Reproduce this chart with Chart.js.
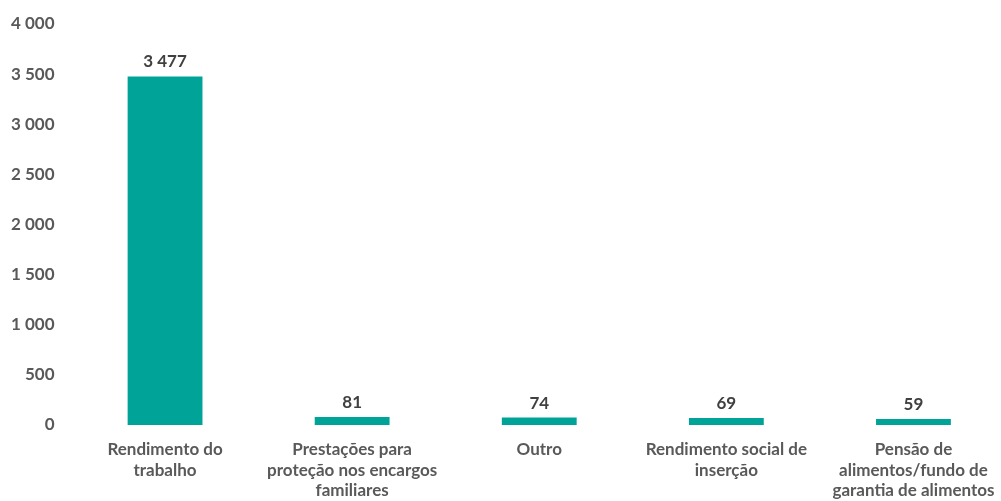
<!DOCTYPE html>
<html lang="pt">
<head>
<meta charset="UTF-8">
<title>Rendimentos</title>
<script src="https://cdn.jsdelivr.net/npm/chart.js"></script>
<style>
  html, body { margin: 0; padding: 0; overflow: hidden; background: #fff; }
  #wrap { width: 1007px; height: 501px; }
</style>
</head>
<body>
<div id="wrap"><canvas id="grafico"></canvas></div>
<script>
// dados
const categorias = [
  ["Rendimento do", "trabalho"],
  ["Prestações para", "proteção nos encargos", "familiares"],
  ["Outro"],
  ["Rendimento social de", "inserção"],
  ["Pensão de", "alimentos/fundo de", "garantia de alimentos"]
];
const valores = [3477, 81, 74, 69, 59];
const eixoY = { min: 0, max: 4000, passo: 500 };

const fonte = "Lato, 'Open Sans', sans-serif";

function formatar(n) {
  return String(n).replace(/\B(?=(\d{3})+(?!\d))/g, " ");
}

const rotulos = {
  id: "rotulos",
  afterDatasetsDraw(chart) {
    const ctx = chart.ctx;
    ctx.save();
    ctx.font = "bold 17px " + fonte;
    ctx.fillStyle = "#404040";
    ctx.textAlign = "center";
    ctx.textBaseline = "bottom";
    chart.getDatasetMeta(0).data.forEach((bar, i) => {
      ctx.fillText(formatar(valores[i]), bar.x, bar.y - 6);
    });
    ctx.restore();
  }
};

new Chart(document.getElementById("grafico"), {
  type: "bar",
  data: {
    labels: categorias,
    datasets: [{
      data: valores,
      backgroundColor: "#00A398",
      categoryPercentage: 1,
      barPercentage: 0.4
    }]
  },
  options: {
    responsive: true,
    maintainAspectRatio: false,
    animation: false,
    layout: { padding: { top: 24, right: 0, bottom: 0, left: 0 } },
    plugins: { legend: { display: false }, tooltip: { enabled: false } },
    scales: {
      x: {
        grid: { display: false },
        border: { display: false },
        ticks: {
          color: "#595959",
          font: { family: fonte, size: 17, weight: "bold", lineHeight: 1.22 },
          maxRotation: 0,
          autoSkip: false,
          padding: 6
        },
        afterFit(scale) { scale.height = 76; }
      },
      y: {
        min: eixoY.min,
        max: eixoY.max,
        grid: { display: false },
        border: { display: false },
        ticks: {
          stepSize: eixoY.passo,
          color: "#595959",
          font: { family: fonte, size: 17, weight: "bold" },
          padding: 9,
          callback: v => formatar(v)
        },
        afterFit(scale) { scale.width = 71.5; }
      }
    }
  },
  plugins: [rotulos]
});
</script>
</body>
</html>
